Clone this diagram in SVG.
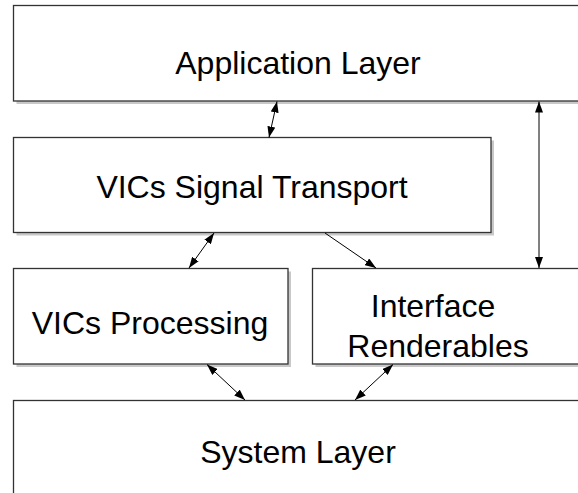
<svg xmlns="http://www.w3.org/2000/svg" width="578" height="493" viewBox="0 0 578 493">
  <defs>
    <marker id="ah" markerWidth="11" markerHeight="8" refX="11" refY="4" orient="auto-start-reverse" markerUnits="userSpaceOnUse">
      <path d="M0,0 L11,4 L0,8 z" fill="#000"/>
    </marker>
  </defs>
  <style>
    .box { fill: #fff; stroke: #333; stroke-width: 1.3; }
    .shadow { fill: #c8c8c8; }
    .lbl { font-family: "Liberation Sans", Helvetica, Arial, sans-serif; font-size: 32px; fill: #000; text-anchor: middle; }
    .con { stroke: #000; stroke-width: 1; fill: none; }
  </style>
  <rect width="578" height="493" fill="#fff"/>
  <g id="application-layer">
    <rect class="shadow" x="16.5" y="8.5" width="580" height="95.5"/>
    <rect class="box" x="13.5" y="5.5" width="580" height="95.5"/>
    <text class="lbl" x="298" y="74">Application Layer</text>
  </g>
  <g id="vics-signal-transport">
    <rect class="shadow" x="16.5" y="140.5" width="477.5" height="95"/>
    <rect class="box" x="13.5" y="137.5" width="477.5" height="95"/>
    <text class="lbl" x="252" y="198">VICs Signal Transport</text>
  </g>
  <g id="vics-processing">
    <rect class="shadow" x="16.5" y="271.5" width="274.5" height="95.5"/>
    <rect class="box" x="13.5" y="268.5" width="274.5" height="95.5"/>
    <text class="lbl" x="150" y="334">VICs Processing</text>
  </g>
  <g id="interface-renderables">
    <rect class="shadow" x="315.5" y="271.5" width="280" height="95.5"/>
    <rect class="box" x="312.5" y="268.5" width="280" height="95.5"/>
    <text class="lbl" x="433" y="317">Interface</text>
    <text class="lbl" x="438" y="357">Renderables</text>
  </g>
  <g id="system-layer">
    <rect class="shadow" x="16.5" y="403.5" width="580" height="100"/>
    <rect class="box" x="13.5" y="400.5" width="580" height="100"/>
    <text class="lbl" x="298" y="463">System Layer</text>
  </g>
  <g id="connectors">
    <line class="con" x1="277" y1="101.5" x2="269" y2="137.5" marker-start="url(#ah)" marker-end="url(#ah)"/>
    <line class="con" x1="539" y1="101.5" x2="539" y2="268" marker-start="url(#ah)" marker-end="url(#ah)"/>
    <line class="con" x1="214" y1="233" x2="189" y2="268" marker-start="url(#ah)" marker-end="url(#ah)"/>
    <line class="con" x1="325" y1="233" x2="376" y2="268" marker-end="url(#ah)"/>
    <line class="con" x1="207" y1="364.5" x2="245" y2="400" marker-start="url(#ah)" marker-end="url(#ah)"/>
    <line class="con" x1="393" y1="364.5" x2="355" y2="400" marker-start="url(#ah)" marker-end="url(#ah)"/>
  </g>
</svg>
